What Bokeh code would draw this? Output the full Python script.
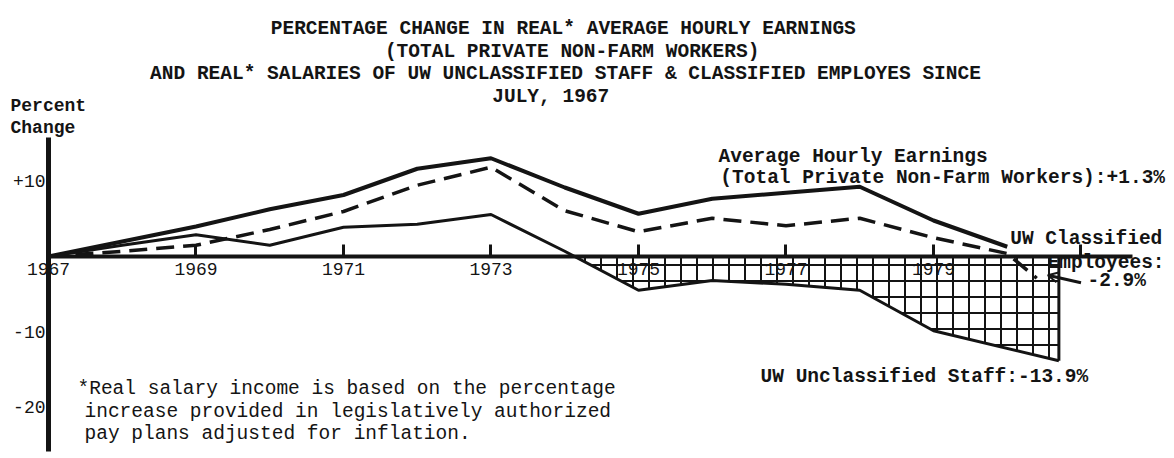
import numpy as np
from bokeh.plotting import figure
from bokeh.models import Label, Arrow, OpenHead, LinearAxis, FixedTicker, Range1d
from bokeh.embed import file_html
from bokeh.resources import INLINE

# ---- data (percent change since July 1967) ----
years = [1967, 1968, 1969, 1970, 1971, 1972, 1973, 1974, 1975, 1976, 1977, 1978, 1979, 1980]
avg_hourly = [0.0, 2.0, 4.0, 6.3, 8.2, 11.7, 13.1, 9.2, 5.7, 7.7, 8.5, 9.3, 4.8, 1.3]

classified_years = [1967, 1968, 1969, 1970, 1971, 1972, 1973, 1974, 1975, 1976, 1977, 1978, 1979, 1980, 1980.4]
classified = [0.0, 0.7, 1.5, 3.6, 6.0, 9.5, 11.9, 6.1, 3.3, 5.1, 4.1, 5.1, 2.5, 0.4, -2.9]

unclassified_years = [1967, 1968, 1969, 1970, 1971, 1972, 1973, 1974, 1975, 1976, 1977, 1978, 1979, 1980.7]
unclassified = [0.0, 1.5, 2.9, 1.5, 3.9, 4.3, 5.6, 0.7, -4.5, -3.2, -3.7, -4.5, -9.9, -13.9]

x_tick_years = [1967, 1969, 1971, 1973, 1975, 1977, 1979, 1981]
x_tick_labels = {1981: ""}
y_ticks = [10, -10, -20]
y_tick_labels = {10: "+10", -10: "-10", -20: "-20"}

title_lines = [
    "PERCENTAGE CHANGE IN REAL* AVERAGE HOURLY EARNINGS",
    "(TOTAL PRIVATE NON-FARM WORKERS)",
    "AND REAL* SALARIES OF UW UNCLASSIFIED STAFF & CLASSIFIED EMPLOYES SINCE",
    "JULY, 1967",
]
footnote_lines = [
    "*Real salary income is based on the percentage",
    "increase provided in legislatively authorized",
    "pay plans adjusted for inflation.",
]

INK = "#141414"
MONO = "Liberation Mono"

p = figure(width=1174, height=458, output_backend="svg", toolbar_location=None,
           x_range=Range1d(1966.3492, 1982.2678), y_range=Range1d(-26.933, 34.133),
           x_axis_location=None, y_axis_location=None, min_border=0)
p.min_border_left = 0
p.min_border_right = 0
p.min_border_top = 0
p.min_border_bottom = 0
p.outline_line_color = None
p.grid.visible = False
p.background_fill_color = "white"
p.border_fill_color = "white"

# axes through the origin
xaxis = LinearAxis(fixed_location=0, ticker=FixedTicker(ticks=x_tick_years),
                   major_label_overrides=x_tick_labels, bounds=(1967, 1981.7),
                   axis_line_width=4, axis_line_color=INK,
                   major_tick_in=12, major_tick_out=0, major_tick_line_width=3,
                   major_tick_line_color=INK, minor_tick_line_color=None,
                   major_label_standoff=6, major_label_text_font=MONO,
                   major_label_text_font_size="18px", major_label_text_color=INK)
p.add_layout(xaxis, "below")

yaxis = LinearAxis(fixed_location=1967, ticker=FixedTicker(ticks=y_ticks),
                   major_label_overrides=y_tick_labels, bounds=(-26, 15.8),
                   axis_line_width=5, axis_line_color=INK,
                   major_tick_in=0, major_tick_out=0, minor_tick_line_color=None,
                   major_label_standoff=3, major_label_text_font=MONO,
                   major_label_text_font_size="18px", major_label_text_color=INK)
p.add_layout(yaxis, "left")

# hatched region where unclassified salaries fall below zero
uy = np.array(unclassified_years, dtype=float)
uv = np.array(unclassified, dtype=float)
i = int(np.where((uv[:-1] > 0) & (uv[1:] <= 0))[0][0])
x_cross = uy[i] + uv[i] / (uv[i] - uv[i + 1]) * (uy[i + 1] - uy[i])
hx = np.concatenate([[x_cross], uy[i + 1:]])
hy = np.concatenate([[0.0], uv[i + 1:]])
p.varea(x=hx, y1=np.zeros_like(hy), y2=hy, fill_color="white", fill_alpha=0,
        hatch_pattern="+", hatch_scale=16, hatch_weight=2, hatch_color=INK)
p.segment(x0=[uy[-1]], y0=[0], x1=[uy[-1]], y1=[uv[-1]], line_width=3, line_color=INK)

# series
p.line(years, avg_hourly, line_width=4, line_color=INK)
p.line(classified_years, classified, line_width=3.5, line_dash="18 9", line_color=INK)
p.line(unclassified_years, unclassified, line_width=3, line_color=INK)


def add_text(text, x, y, size="19.5px", bold=False, align="left"):
    p.add_layout(Label(x=x, y=y, text=text, text_font=MONO, text_font_size=size,
                       text_font_style="bold" if bold else "normal",
                       text_align=align, text_baseline="middle", text_color=INK))


# title
title_pos = [(1973.98, 30.27), (1974.10, 27.2), (1974.01, 24.27), (1973.81, 21.33)]
for line, (tx, ty) in zip(title_lines, title_pos):
    add_text(line, tx, ty, bold=True, align="center")

# axis caption
add_text("Percent", 1966.485, 20.13, size="18px", bold=True)
add_text("Change", 1966.485, 17.07, size="18px", bold=True)

# series labels
add_text("Average Hourly Earnings", 1976.085, 13.33, bold=True)
add_text("(Total Private Non-Farm Workers):+1.3%", 1976.11, 10.53, bold=True)
add_text("UW Classified", 1980.04, 2.4, bold=True)
add_text("Employees:", 1980.546, -0.8, bold=True)
add_text("-2.9%", 1981.088, -3.2, bold=True)
add_text("UW Unclassified Staff:-13.9%", 1976.655, -16.0, bold=True)

p.add_layout(Arrow(end=OpenHead(size=10, line_width=2, line_color=INK),
                   x_start=1981.0, y_start=-3.5, x_end=1980.55, y_end=-2.5,
                   line_width=3, line_color=INK))

# footnote
foot_pos = [(1967.393, -17.6), (1967.488, -20.67), (1967.488, -23.73)]
for line, (fx, fy) in zip(footnote_lines, foot_pos):
    add_text(line, fx, fy)

open("out.html", "w").write(file_html(p, INLINE, "Percentage change in real earnings"))
